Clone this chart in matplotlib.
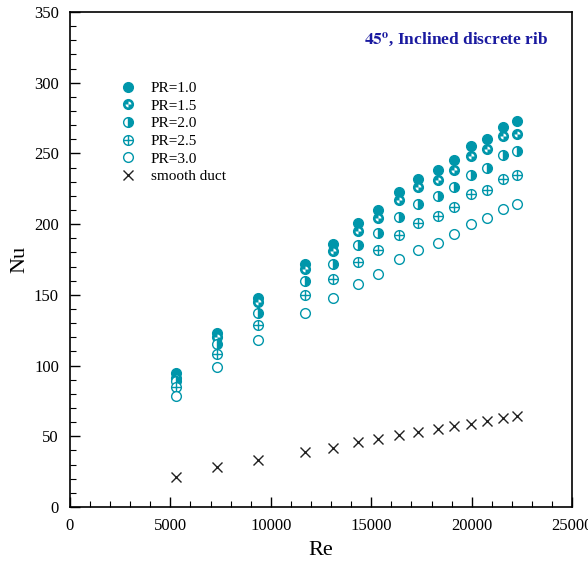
import numpy as np
import matplotlib.pyplot as plt
from matplotlib.path import Path

plt.rcParams["font.family"] = ["Liberation Serif", "DejaVu Serif"]
plt.rcParams["mathtext.fontset"] = "stix"

teal = "#0096aa"

re = [5280, 7320, 9360, 11700, 13100, 14340, 15340, 16380,
      17330, 18330, 19120, 19970, 20770, 21560, 22260]
re_pr = [5280, 7320, 9360, 11700, 13100, 14340, 15340, 16380,
         17330, 18330, 19120, 19970, 20770, 21560, 22260]

nu_pr10 = [95, 123, 148, 172, 186, 201, 210, 223, 232, 238, 245, 255, 260, 269, 273]
nu_pr15 = [91, 120, 145, 168, 181, 195, 204, 217, 226, 231, 238, 248, 253, 262, 264]
nu_pr20 = [89, 115, 137, 160, 172, 185, 194, 205, 214, 220, 226, 235, 240, 249, 252]
nu_pr25 = [85, 108, 129, 150, 161, 173, 182, 192, 201, 206, 212, 221, 224, 232, 235]
nu_pr30 = [78.5, 99, 118, 137, 148, 158, 165, 175, 182, 187, 193, 200, 204, 211, 214]
nu_smooth = [21, 28, 33, 39, 42, 46, 48, 51, 53, 55, 57, 59, 61, 63, 64]

labels = ["PR=1.0", "PR=1.5", "PR=2.0", "PR=2.5", "PR=3.0", "smooth duct"]

# white quadrant marker (upper-right + lower-left) for PR=1.5
t1 = np.linspace(0, np.pi / 2, 12)
t2 = np.linspace(np.pi, 1.5 * np.pi, 12)
verts = ([(0, 0)] + list(zip(np.cos(t1), np.sin(t1))) + [(0, 0)]
         + [(0, 0)] + list(zip(np.cos(t2), np.sin(t2))) + [(0, 0)])
codes = ([Path.MOVETO] + [Path.LINETO] * 12 + [Path.CLOSEPOLY]) * 2
quad = Path(verts, codes)

fig = plt.figure(figsize=(5.88, 5.70), dpi=100)
ax = fig.add_axes([0.119, 0.1105, 0.854, 0.8685])

ms = 7
h1, = ax.plot(re_pr, nu_pr10, "o", ms=ms, color=teal, mec=teal, ls="none")

h2a, = ax.plot(re_pr, nu_pr15, "o", ms=ms, color=teal, mec=teal, ls="none")
h2b, = ax.plot(re_pr, nu_pr15, marker=quad, ms=4.2, color="white", mew=0, ls="none")

h3, = ax.plot(re_pr, nu_pr20, "o", ms=ms, color=teal, mec=teal, fillstyle="right",
              markerfacecoloralt="white", mew=1.0, ls="none")

h4a, = ax.plot(re_pr, nu_pr25, "o", ms=ms, mfc="white", mec=teal, mew=1.0, ls="none")
h4b, = ax.plot(re_pr, nu_pr25, "+", ms=ms, mec=teal, mew=1.0, ls="none")

h5, = ax.plot(re_pr, nu_pr30, "o", ms=ms, mfc="white", mec=teal, mew=1.0, ls="none")

h6, = ax.plot(re, nu_smooth, "x", ms=7, mec="#222222", mew=1.0, ls="none")

ax.legend([h1, (h2a, h2b), h3, (h4a, h4b), h5, h6], labels,
          loc="upper left", bbox_to_anchor=(0.07, 0.888), frameon=False,
          fontsize=11, handlelength=1.2, handletextpad=0.9, labelspacing=0.26)

ax.set_xlim(0, 25000)
ax.set_ylim(0, 350)
ax.set_xticks(np.arange(0, 25001, 5000))
ax.set_yticks(np.arange(0, 351, 50))
ax.set_xticks(np.arange(0, 25001, 1000), minor=True)
ax.set_yticks(np.arange(0, 351, 10), minor=True)
ax.tick_params(which="major", direction="in", length=7, width=1, labelsize=12, pad=8)
ax.tick_params(which="minor", direction="in", length=4, width=0.8)
for s in ax.spines.values():
    s.set_linewidth(1.2)

ax.set_xlabel("Re", fontsize=16, labelpad=5)
ax.set_ylabel("Nu", fontsize=16, labelpad=3)

ax.text(0.952, 0.943, r"$\mathbf{45^{o}}$, Inclined discrete rib", transform=ax.transAxes,
        ha="right", va="center", fontsize=12.5, fontweight="bold", color="#1a1aa0")

fig.savefig("out.png", dpi=100)
